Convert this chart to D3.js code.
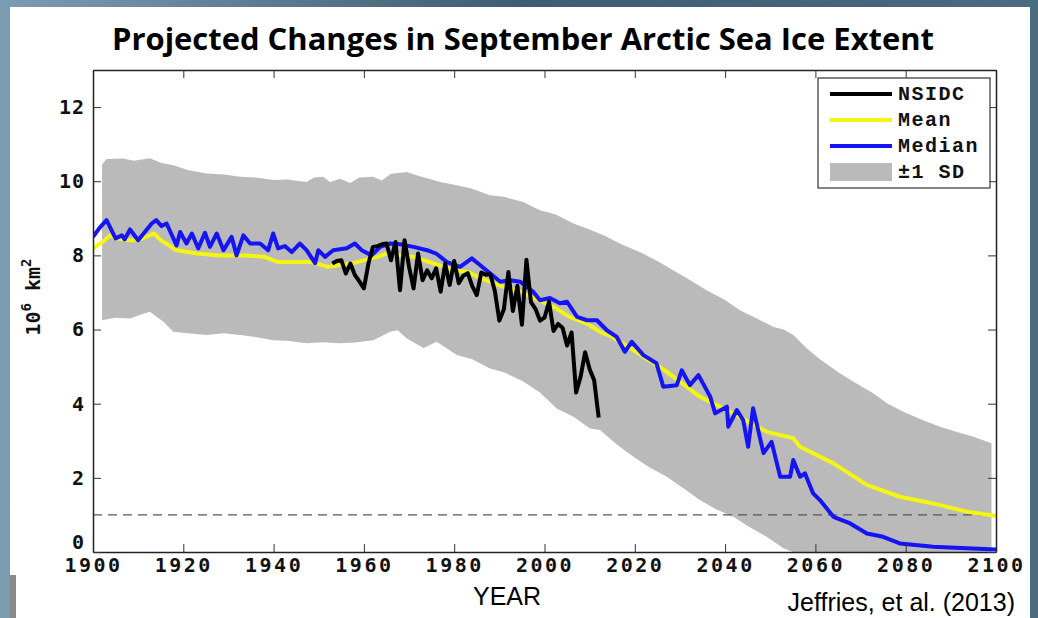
<!DOCTYPE html>
<html>
<head>
<meta charset="utf-8">
<script src="https://cdn.jsdelivr.net/npm/d3@7"></script>
<style>
  body { margin: 0; padding: 0; background: #ffffff; }
  svg { display: block; }
</style>
</head>
<body>
<div id="chart"></div>
<script>
// 1. data
var xTicks = [1900, 1920, 1940, 1960, 1980, 2000, 2020, 2040, 2060, 2080, 2100];
var yTicks = [0, 2, 4, 6, 8, 10, 12];

var nsidcYears = d3.range(1953, 2013);
var nsidcValues = [7.78, 7.85, 7.87, 7.51, 7.78, 7.47, 7.30, 7.11, 7.78, 8.23,
  8.25, 8.30, 8.32, 7.87, 8.36, 7.06, 8.41, 7.69, 7.11, 8.05,
  7.33, 7.60, 7.38, 7.65, 7.02, 7.78, 7.20, 7.85, 7.25, 7.45,
  7.52, 7.17, 6.93, 7.54, 7.48, 7.49, 7.04, 6.24, 6.55, 7.55,
  6.50, 7.18, 6.13, 7.88, 6.74, 6.56, 6.24, 6.32, 6.75, 5.96,
  6.15, 6.05, 5.57, 5.92, 4.30, 4.73, 5.39, 4.93, 4.63, 3.63];

var meanPts = [[1900, 8.19], [1902, 8.35], [1903.8, 8.54], [1905, 8.46], [1908, 8.41], [1910, 8.41],
  [1913.5, 8.59], [1915, 8.41], [1918.5, 8.14], [1923, 8.05], [1928, 8.0], [1934, 8.0], [1938, 7.96],
  [1941, 7.82], [1948.5, 7.82], [1952, 7.69], [1957.6, 7.79], [1963, 7.96], [1965, 8.05], [1971, 7.96],
  [1974.5, 7.82], [1980, 7.6], [1983, 7.55], [1987, 7.33], [1991, 7.15], [1994.6, 7.02], [2002, 6.61],
  [2005.6, 6.34], [2009.4, 6.16], [2012.3, 5.94], [2015, 5.8], [2019.7, 5.44], [2027.1, 4.86],
  [2034.4, 4.19], [2041.8, 3.74], [2049.2, 3.24], [2055.1, 3.07], [2056.6, 2.84], [2064, 2.39],
  [2071.4, 1.81], [2078.7, 1.49], [2086.1, 1.31], [2093.5, 1.09], [2100, 0.97]];

var medianPts = [[1900, 8.50], [1901.5, 8.75], [1903, 8.95], [1905, 8.46], [1906.4, 8.54], [1907, 8.43],
  [1908.2, 8.70], [1910, 8.41], [1913, 8.86], [1914, 8.95], [1915.2, 8.79], [1916.3, 8.86], [1918.5, 8.27],
  [1919.3, 8.63], [1920.7, 8.32], [1921.9, 8.59], [1923.3, 8.19], [1924.8, 8.61], [1925.9, 8.23],
  [1927.4, 8.59], [1928.9, 8.14], [1930.7, 8.50], [1931.8, 8.00], [1933.3, 8.54], [1934.8, 8.32],
  [1937, 8.32], [1938.8, 8.14], [1939.9, 8.59], [1941, 8.19], [1942.5, 8.25], [1944, 8.09], [1945.8, 8.32],
  [1947.3, 8.14], [1949.2, 7.79], [1949.9, 8.14], [1951.4, 7.96], [1953.2, 8.14], [1956.2, 8.19],
  [1958, 8.32], [1959.5, 8.14], [1961.7, 8.0], [1963.6, 8.23], [1965.8, 8.32], [1968, 8.3], [1971, 8.23],
  [1974, 8.14], [1976, 8.05], [1978.4, 7.82], [1981.3, 7.69], [1983.9, 7.92], [1985.7, 7.74], [1988, 7.51],
  [1990.2, 7.29], [1992.4, 7.33], [1994.6, 7.29], [1997.5, 7.02], [1999, 6.79], [2001.2, 6.85],
  [2003.4, 6.71], [2005, 6.75], [2007.2, 6.34], [2009.4, 6.25], [2011.6, 6.25], [2013.8, 5.98], [2016, 5.8],
  [2017.8, 5.4], [2019.3, 5.67], [2021.9, 5.31], [2024.8, 5.09], [2026.3, 4.46], [2029.3, 4.5],
  [2030.4, 4.9], [2032.2, 4.5], [2034.1, 4.77], [2036.7, 4.19], [2037.8, 3.74], [2040.4, 3.92],
  [2040.7, 3.38], [2042.6, 3.83], [2044, 3.56], [2045.1, 2.84], [2046.2, 3.88], [2048.5, 2.67],
  [2050.3, 2.97], [2052.2, 2.03], [2054.4, 2.03], [2055.1, 2.48], [2056.6, 2.03], [2057.7, 2.12],
  [2059.5, 1.58], [2061, 1.40], [2064, 0.95], [2067.7, 0.77], [2071.4, 0.50], [2075, 0.41],
  [2078.7, 0.23], [2086.1, 0.14], [2093.5, 0.10], [2100, 0.07]];

var sdUpper = [[1902, 10.45], [1903, 10.6], [1906.7, 10.61], [1909, 10.55], [1912.6, 10.62], [1915, 10.5],
  [1917.8, 10.43], [1921, 10.3], [1925.2, 10.21], [1929, 10.18], [1932.6, 10.12], [1936, 10.1],
  [1940, 10.03], [1943, 10.05], [1947.3, 9.98], [1949, 10.1], [1951, 10.12], [1952.5, 9.98],
  [1954.7, 10.07], [1957, 9.95], [1959, 10.1], [1962, 10.12], [1964, 10.02], [1966, 10.2],
  [1969.5, 10.25], [1972, 10.15], [1976.9, 9.98], [1980.6, 9.89], [1984, 9.8], [1987.9, 9.62],
  [1991, 9.58], [1995.3, 9.44], [1999, 9.22], [2002.5, 9.1], [2006.4, 8.86], [2010, 8.7],
  [2013.8, 8.5], [2017, 8.3], [2021.1, 8.09], [2025, 7.85], [2028.5, 7.6], [2032, 7.35],
  [2035.9, 7.06], [2040, 6.8], [2043.3, 6.52], [2047, 6.3], [2050.7, 6.07], [2053, 6.0],
  [2055.1, 5.85], [2058, 5.5], [2061, 5.2], [2065.4, 4.82], [2069, 4.55], [2072.8, 4.28],
  [2076, 4.0], [2080.2, 3.74], [2084, 3.55], [2087.6, 3.38], [2091, 3.25], [2095, 3.11], [2099, 2.93]];

var sdLower = [[1902, 6.25], [1905, 6.32], [1908.2, 6.3], [1910.5, 6.4], [1912.6, 6.48], [1915.6, 6.21],
  [1917.8, 5.94], [1921, 5.9], [1925.2, 5.85], [1929, 5.9], [1932.6, 5.85], [1936, 5.8], [1939.9, 5.71],
  [1943, 5.7], [1947.3, 5.63], [1951, 5.66], [1954.7, 5.63], [1958, 5.65], [1962.1, 5.71],
  [1965.8, 5.94], [1967.5, 5.98], [1969.5, 5.76], [1973.2, 5.5], [1976.1, 5.67], [1980.6, 5.31],
  [1984, 5.2], [1987.9, 4.95], [1991, 4.85], [1995.3, 4.6], [1999, 4.3], [2002.7, 3.87],
  [2006.4, 3.65], [2010.1, 3.33], [2012.3, 3.29], [2016, 2.9], [2019.7, 2.57], [2023, 2.3],
  [2027.1, 2.03], [2031, 1.7], [2034.4, 1.4], [2038, 1.15], [2041.8, 0.95], [2045, 0.7],
  [2049.2, 0.41], [2052.9, 0.1], [2055, 0], [2099, 0]];

var threshold = 1;
var legendNames = ["NSIDC", "Mean", "Median", "\u00b11 SD"];
var legendColors = ["#000000", "#f5f514", "#1414f5", "#bababa"];

// 2. svg
var width = 1038, height = 618;
var margin = { top: 70, right: 42, bottom: 66, left: 93 };

var svg = d3.select("#chart").append("svg").attr("width", width).attr("height", height);

// slide frame
var grad = svg.append("defs").append("linearGradient").attr("id", "frame").attr("x1", 0).attr("x2", 1);
grad.append("stop").attr("offset", "0%").attr("stop-color", "#7b9db2");
grad.append("stop").attr("offset", "50%").attr("stop-color", "#3d5d70");
grad.append("stop").attr("offset", "100%").attr("stop-color", "#4a6b80");
svg.append("rect").attr("width", width).attr("height", height).attr("fill", "url(#frame)");
svg.append("rect").attr("x", 10).attr("y", 7).attr("width", 1020).attr("height", 611).attr("fill", "#ffffff");
svg.append("rect").attr("x", 10).attr("y", 575).attr("width", 6).attr("height", 43).attr("fill", "#8a8a8a");

svg.append("defs").append("clipPath").attr("id", "plotclip")
  .append("rect")
  .attr("x", margin.left).attr("y", margin.top)
  .attr("width", width - margin.left - margin.right)
  .attr("height", height - margin.top - margin.bottom);

// 3. scales
var xScale = d3.scaleLinear().domain([1900, 2100]).range([margin.left, width - margin.right]);
var yScale = d3.scaleLinear().domain([0, 13]).range([height - margin.bottom, margin.top]);

var line = d3.line()
  .x(function(d) { return xScale(d[0]); })
  .y(function(d) { return yScale(d[1]); });

var plot = svg.append("g").attr("clip-path", "url(#plotclip)");

// 4. +-1 SD band
plot.append("path")
  .attr("d", line(sdUpper.concat(sdLower.slice().reverse())) + "Z")
  .attr("fill", legendColors[3]);

// threshold line
plot.append("line")
  .attr("x1", xScale(1900)).attr("x2", xScale(2100))
  .attr("y1", yScale(threshold)).attr("y2", yScale(threshold))
  .attr("stroke", "#555").attr("stroke-width", 1.2).attr("stroke-dasharray", "9,6");

// 5. lines
plot.append("path").attr("d", line(meanPts))
  .attr("fill", "none").attr("stroke", legendColors[1]).attr("stroke-width", 4).attr("stroke-linejoin", "round");
plot.append("path").attr("d", line(medianPts))
  .attr("fill", "none").attr("stroke", legendColors[2]).attr("stroke-width", 4).attr("stroke-linejoin", "round");
plot.append("path")
  .attr("d", line(nsidcYears.map(function(y, i) { return [y, nsidcValues[i]]; })))
  .attr("fill", "none").attr("stroke", legendColors[0]).attr("stroke-width", 4).attr("stroke-linejoin", "round");

// 6. axes (ticks inside, box all round)
var tickFont = "'DejaVu Sans Mono', monospace";
var axB = svg.append("g")
  .attr("transform", "translate(0," + (height - margin.bottom) + ")")
  .call(d3.axisBottom(xScale).tickValues(xTicks).tickSizeInner(-8).tickSizeOuter(0).tickPadding(6).tickFormat(d3.format("d")));
var axT = svg.append("g")
  .attr("transform", "translate(0," + margin.top + ")")
  .call(d3.axisTop(xScale).tickValues(xTicks).tickSizeInner(-8).tickSizeOuter(0).tickFormat(""));
var axL = svg.append("g")
  .attr("transform", "translate(" + margin.left + ",0)")
  .call(d3.axisLeft(yScale).tickValues(yTicks).tickSizeInner(-8).tickSizeOuter(0).tickPadding(8));
var axR = svg.append("g")
  .attr("transform", "translate(" + (width - margin.right) + ",0)")
  .call(d3.axisRight(yScale).tickValues(yTicks).tickSizeInner(-8).tickSizeOuter(0).tickFormat(""));

[axB, axT, axL, axR].forEach(function(a) {
  a.select(".domain").attr("stroke", "#222").attr("stroke-width", 1.5);
  a.selectAll(".tick line").attr("stroke", "#333").attr("stroke-width", 1);
});
axB.selectAll("text")
  .attr("font-family", tickFont).attr("font-weight", "bold").attr("font-size", "20px")
  .attr("letter-spacing", "2.5px").attr("fill", "#111").attr("dy", "0.7em");
axL.selectAll("text")
  .attr("font-family", tickFont).attr("font-weight", "bold").attr("font-size", "20px")
  .attr("letter-spacing", "1px").attr("fill", "#111");
axL.selectAll(".tick").filter(function(d) { return d === 0; }).select("text").attr("dy", "-0.2em");

// y label
var ylab = svg.append("text")
  .attr("transform", "translate(40,297) rotate(-90)")
  .attr("text-anchor", "middle")
  .attr("font-family", tickFont).attr("font-weight", "bold").attr("font-size", "20px").attr("fill", "#111");
ylab.append("tspan").text("10");
ylab.append("tspan").attr("dy", -9).attr("font-size", "14px").text("6");
ylab.append("tspan").attr("dy", 9).text(" km");
ylab.append("tspan").attr("dy", -9).attr("font-size", "14px").text("2");

// 7. legend
var legend = svg.append("g").attr("transform", "translate(818,78)");
legend.append("rect").attr("width", 172).attr("height", 110)
  .attr("fill", "#ffffff").attr("stroke", "#333").attr("stroke-width", 1.2);
legendNames.forEach(function(name, i) {
  var yy = 16 + i * 26;
  if (i < 3) {
    legend.append("line").attr("x1", 12).attr("x2", 74).attr("y1", yy).attr("y2", yy)
      .attr("stroke", legendColors[i]).attr("stroke-width", 4);
  } else {
    legend.append("rect").attr("x", 12).attr("y", yy - 9).attr("width", 62).attr("height", 18)
      .attr("fill", legendColors[i]);
  }
  legend.append("text").attr("x", 80).attr("y", yy + 6)
    .attr("font-family", "'Liberation Mono', 'Courier New', monospace").attr("font-weight", "bold")
    .attr("font-size", "20px").attr("letter-spacing", "1.5px").attr("fill", "#111")
    .text(name);
});

// 8. titles
svg.append("text")
  .attr("x", 523).attr("y", 50)
  .attr("text-anchor", "middle")
  .attr("font-family", "'Liberation Sans Narrow', 'Open Sans', sans-serif").attr("font-weight", "bold")
  .attr("font-size", "31px").attr("fill", "#000")
  .attr("textLength", 822).attr("lengthAdjust", "spacingAndGlyphs")
  .text("Projected Changes in September Arctic Sea Ice Extent");

svg.append("text")
  .attr("x", 507).attr("y", 605)
  .attr("text-anchor", "middle")
  .attr("font-family", "'Liberation Sans', Arial, sans-serif").attr("font-size", "25px").attr("fill", "#000")
  .text("YEAR");

svg.append("text")
  .attr("x", 1015).attr("y", 611)
  .attr("text-anchor", "end")
  .attr("font-family", "'Liberation Sans', Arial, sans-serif").attr("font-size", "25px").attr("fill", "#000")
  .text("Jeffries, et al. (2013)");
</script>
</body>
</html>
